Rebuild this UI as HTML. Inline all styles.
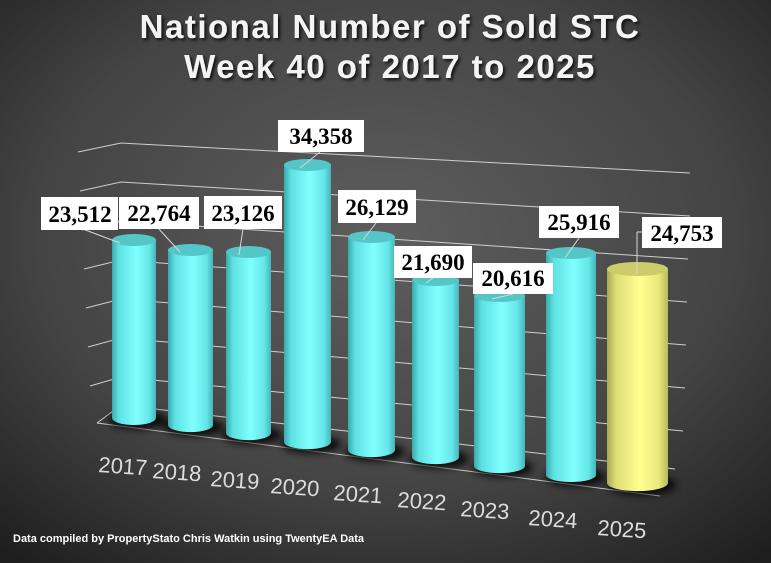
<!DOCTYPE html>
<html><head><meta charset="utf-8"><style>
html,body{margin:0;padding:0;width:771px;height:563px;overflow:hidden;background:#333}
svg{display:block}
</style></head><body>
<svg width="771" height="563" xmlns="http://www.w3.org/2000/svg">
<defs>
<radialGradient id="bg" cx="0.5" cy="0.42" r="0.75">
<stop offset="0" stop-color="#5e5e5e"/><stop offset="0.6" stop-color="#444"/><stop offset="1" stop-color="#1e1e1e"/>
</radialGradient>
<linearGradient id="cy" x1="0" x2="1" y1="0" y2="0">
<stop offset="0" stop-color="#3aa9ab"/><stop offset="0.15" stop-color="#5ee0e2"/><stop offset="0.55" stop-color="#80ffff"/><stop offset="0.85" stop-color="#66e6e8"/><stop offset="1" stop-color="#44b6b8"/>
</linearGradient>
<linearGradient id="ye" x1="0" x2="1" y1="0" y2="0">
<stop offset="0" stop-color="#a9a954"/><stop offset="0.15" stop-color="#dede78"/><stop offset="0.55" stop-color="#ffff90"/><stop offset="0.85" stop-color="#e8e87e"/><stop offset="1" stop-color="#b8b85c"/>
</linearGradient>
<filter id="bl"><feGaussianBlur stdDeviation="4"/></filter>
<filter id="ts"><feDropShadow dx="2" dy="2" stdDeviation="1.5" flood-color="#000" flood-opacity="0.8"/></filter>
</defs>
<rect width="771" height="563" fill="url(#bg)"/>
<g font-family="Liberation Sans, sans-serif" font-weight="bold" font-size="33" letter-spacing="1.5" fill="#f4f4f4" text-anchor="middle" filter="url(#ts)">
<text x="390" y="38">National Number of  Sold STC</text>
<text x="390" y="78">Week 40 of 2017 to 2025</text>
</g>
<g stroke="#cfcfcf" stroke-width="1" fill="none">
<polyline points="78,152 121,143 690,173"/>
<polyline points="80,191 121,182 690,216"/>
<polyline points="82,230 121,221 688,259"/>
<polyline points="84,269 121,260 687,302"/>
<polyline points="86,308 121,299 686,345"/>
<polyline points="88,347 121,338 685,388"/>
<polyline points="90,386 121,377 683,431"/>
<polyline points="97,423 121,405 675,469"/>
<line x1="97" y1="423" x2="660" y2="496"/>
</g>
<g fill="#000" opacity="0.85" filter="url(#bl)">
<ellipse cx="138" cy="420" rx="30" ry="9"/><ellipse cx="194" cy="427" rx="30" ry="9"/><ellipse cx="252" cy="435" rx="30" ry="9"/><ellipse cx="311" cy="444" rx="30" ry="9"/><ellipse cx="375" cy="452" rx="30" ry="9"/><ellipse cx="439" cy="459" rx="30" ry="9"/><ellipse cx="503" cy="468" rx="30" ry="9"/><ellipse cx="575" cy="477" rx="30" ry="9"/><ellipse cx="642" cy="485" rx="34" ry="10"/>
</g>
<g>
<path d="M112,240 L112,418 A22,7 0 0 0 156,418 L156,240 Z" fill="url(#cy)"/><ellipse cx="134" cy="240" rx="22" ry="6" fill="#55c6c8"/>
<path d="M168,250 L168,425 A22,7 0 0 0 213,425 L213,250 Z" fill="url(#cy)"/><ellipse cx="190.5" cy="250" rx="22.5" ry="6" fill="#55c6c8"/>
<path d="M226,252 L226,433 A22,7 0 0 0 271,433 L271,252 Z" fill="url(#cy)"/><ellipse cx="248.5" cy="252" rx="22.5" ry="6" fill="#55c6c8"/>
<path d="M284,165 L284,442 A23,7 0 0 0 331,442 L331,165 Z" fill="url(#cy)"/><ellipse cx="307.5" cy="165" rx="23.5" ry="6" fill="#55c6c8"/>
<path d="M348,237 L348,450 A23,7 0 0 0 395,450 L395,237 Z" fill="url(#cy)"/><ellipse cx="371.5" cy="237" rx="23.5" ry="6" fill="#55c6c8"/>
<path d="M412,280 L412,457 A23,7 0 0 0 459,457 L459,280 Z" fill="url(#cy)"/><ellipse cx="435.5" cy="280" rx="23.5" ry="6" fill="#55c6c8"/>
<path d="M474,296 L474,466 A25,7 0 0 0 525,466 L525,296 Z" fill="url(#cy)"/><ellipse cx="499.5" cy="296" rx="25.5" ry="6" fill="#55c6c8"/>
<path d="M546,253 L546,475 A25,7 0 0 0 596,475 L596,253 Z" fill="url(#cy)"/><ellipse cx="571" cy="253" rx="25" ry="6" fill="#55c6c8"/>
<path d="M607,269 L607,483 A30,8 0 0 0 668,483 L668,269 Z" fill="url(#ye)"/><ellipse cx="637.5" cy="269" rx="30.5" ry="7" fill="#cccc6a"/>
</g>
<g stroke="#d8d8d8" stroke-width="1">
<line x1="80" y1="228" x2="120" y2="243"/><line x1="158" y1="228" x2="180" y2="252"/><line x1="243" y1="229" x2="239" y2="255"/><line x1="320" y1="152" x2="300" y2="168"/><line x1="376" y1="223" x2="363" y2="240"/><line x1="433" y1="278" x2="426" y2="283"/><line x1="513" y1="294" x2="492" y2="299"/><line x1="579" y1="238" x2="565" y2="258"/><line x1="642" y1="232" x2="637" y2="232"/><line x1="637" y1="232" x2="637" y2="274"/>
</g>
<g fill="#fff">
<rect x="41" y="197" width="77" height="33"/><rect x="119" y="197" width="80" height="32"/><rect x="204" y="196" width="78" height="33"/><rect x="278" y="120" width="86" height="32"/><rect x="338" y="190" width="78" height="33"/><rect x="394" y="246" width="78" height="32"/><rect x="473" y="263" width="80" height="31"/><rect x="539" y="206" width="80" height="32"/><rect x="642" y="217" width="80" height="31"/>
</g>
<g font-family="Liberation Serif, serif" font-weight="bold" font-size="23" fill="#000" text-anchor="middle">
<text x="80" y="222">23,512</text><text x="159" y="221">22,764</text><text x="243" y="221">23,126</text><text x="321" y="144">34,358</text><text x="377" y="215">26,129</text><text x="433" y="270">21,690</text><text x="513" y="286">20,616</text><text x="579" y="230">25,916</text><text x="682" y="241">24,753</text>
</g>
<g font-family="Liberation Sans, sans-serif" font-size="22" fill="#dcdcdc">
<text x="98" y="472" transform="rotate(4 98 472)">2017</text>
<text x="152" y="478" transform="rotate(4 152 478)">2018</text>
<text x="210" y="486" transform="rotate(4 210 486)">2019</text>
<text x="270" y="493" transform="rotate(4 270 493)">2020</text>
<text x="333" y="500" transform="rotate(4 333 500)">2021</text>
<text x="397" y="507" transform="rotate(4 397 507)">2022</text>
<text x="460" y="516" transform="rotate(4 460 516)">2023</text>
<text x="528" y="525" transform="rotate(4 528 525)">2024</text>
<text x="597" y="535" transform="rotate(4 597 535)">2025</text>
</g>
<text x="13" y="542" font-family="Liberation Sans, sans-serif" font-weight="bold" font-size="11" fill="#fff">Data compiled by PropertyStato Chris Watkin using TwentyEA Data</text>
</svg>
</body></html>
